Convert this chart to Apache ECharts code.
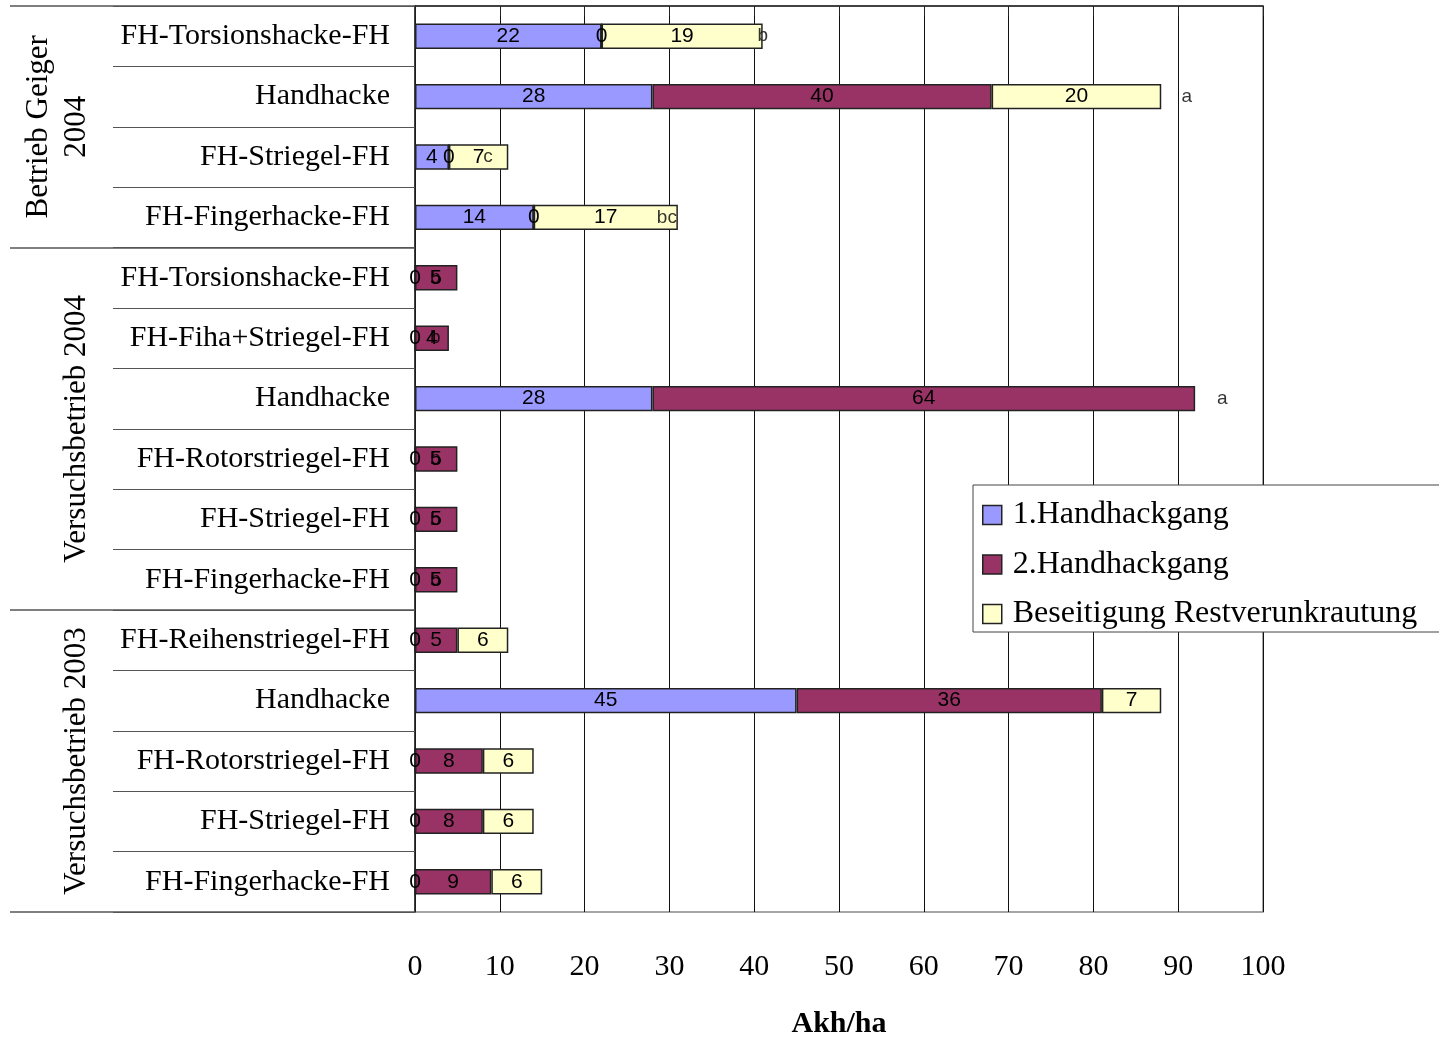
<!DOCTYPE html>
<html>
<head>
<meta charset="utf-8">
<title>Akh/ha je Verfahren</title>
<script src="https://cdn.jsdelivr.net/npm/echarts@6/dist/echarts.min.js"></script>
<style>
  html, body { margin: 0; padding: 0; background: #fff; }
  #chart { width: 1439px; height: 1037px; }
</style>
</head>
<body>
<div id="chart"></div>
<script>
// Verfahren (top to bottom)
const categories = [
  'FH-Torsionshacke-FH', 'Handhacke', 'FH-Striegel-FH', 'FH-Fingerhacke-FH',
  'FH-Torsionshacke-FH', 'FH-Fiha+Striegel-FH', 'Handhacke', 'FH-Rotorstriegel-FH',
  'FH-Striegel-FH', 'FH-Fingerhacke-FH',
  'FH-Reihenstriegel-FH', 'Handhacke', 'FH-Rotorstriegel-FH', 'FH-Striegel-FH', 'FH-Fingerhacke-FH'
];

// Arbeitszeit (Akh/ha) per Arbeitsgang
const handhackgang1 = [22, 28, 4, 14, 0, 0, 28, 0, 0, 0, 0, 45, 0, 0, 0];
const handhackgang2 = [0, 40, 0, 0, 5, 4, 64, 5, 5, 5, 5, 36, 8, 8, 9];
const restverunkrautung = [19, 20, 7, 17, null, null, null, null, null, null, 6, 7, 6, 6, 6];

// Signifikanzbuchstaben: [Position auf der Akh/ha-Achse, Zeile, Buchstabe]
const letters = [
  [41.0, 0, 'b'], [91.0, 1, 'a'], [8.6, 2, 'c'], [29.7, 3, 'bc'],
  [2.4, 4, 'b'], [2.4, 5, 'b'], [95.2, 6, 'a'], [2.4, 7, 'b'], [2.4, 8, 'b'], [2.4, 9, 'b']
];

// Betriebe / Jahre: Zeilengrenzen und Beschriftungen
const groupBounds = [0, 4, 10, 15];
const groupCenters = [2, 7, 12.5];
const groupNames = ['Betrieb Geiger\n2004', 'Versuchsbetrieb 2004', 'Versuchsbetrieb 2003'];

// Achse
const xTicks = [0, 10, 20, 30, 40, 50, 60, 70, 80, 90, 100];

const seriesNames = ['1.Handhackgang', '2.Handhackgang', 'Beseitigung Restverunkrautung'];
const colors = ['#9999FF', '#993366', '#FFFFCC'];

const serif = '"Liberation Serif", "Times New Roman", serif';
const sans = '"Liberation Sans", Arial, sans-serif';

function barSeries(name, data, color) {
  return {
    name: name,
    type: 'bar',
    stack: 'total',
    data: data,
    barCategoryGap: '58%',
    itemStyle: { color: color, borderColor: '#222', borderWidth: 1.5 },
    label: {
      show: true,
      position: 'inside',
      color: '#000',
      fontFamily: sans,
      fontSize: 21,
      formatter: p => (p.value === null || p.value === undefined) ? '' : String(p.value)
    },
    emphasis: { disabled: true },
    animation: false
  };
}

const chart = echarts.init(document.getElementById('chart'));
chart.setOption({
  backgroundColor: '#fff',
  animation: false,
  grid: {
    left: 415, right: 176, top: 6, bottom: 125,
    outerBoundsMode: 'none',
    containLabel: false,
    show: true, borderColor: '#888', borderWidth: 1.5, backgroundColor: 'transparent'
  },
  legend: {
    orient: 'vertical',
    left: 973, top: 485,
    padding: [14, 24, 2, 9],
    itemGap: 17.5,
    itemWidth: 19, itemHeight: 19,
    backgroundColor: '#fff',
    borderColor: '#444', borderWidth: 1,
    data: seriesNames.map(n => ({ name: n, icon: 'rect' })),
    itemStyle: { borderColor: '#222', borderWidth: 1.5 },
    textStyle: { fontFamily: serif, fontSize: 32, color: '#000', padding: [0, 0, 0, 6] }
  },
  xAxis: {
    type: 'value',
    min: 0, max: 100, interval: 10,
    axisLine: { show: true, lineStyle: { color: '#222', width: 1.5 } },
    axisTick: { show: true, length: 10, lineStyle: { color: '#222' } },
    splitLine: { show: true, lineStyle: { color: '#111', width: 1 } },
    axisLabel: {
      fontFamily: serif, fontSize: 30, color: '#000', margin: 40,
      customValues: xTicks
    },
    name: 'Akh/ha',
    nameLocation: 'middle',
    nameGap: 97,
    nameTextStyle: { fontFamily: serif, fontSize: 30, fontWeight: 'bold', color: '#000' }
  },
  yAxis: [
    {
      type: 'category',
      inverse: true,
      data: categories,
      axisLine: { show: true, lineStyle: { color: '#222', width: 1.5 } },
      axisTick: { show: true, length: 302, lineStyle: { color: '#555', width: 1.2 } },
      axisLabel: { fontFamily: serif, fontSize: 30, color: '#000', margin: 25, padding: [6, 0, 0, 0] }
    },
    {
      type: 'value',
      position: 'left',
      inverse: true,
      min: 0, max: 15,
      splitLine: { show: false },
      axisLine: { show: false },
      axisTick: { show: true, length: 405, customValues: groupBounds, lineStyle: { color: '#555', width: 1.5 } },
      axisLabel: {
        show: true,
        customValues: groupCenters,
        rotate: 90,
        margin: 319,
        align: 'center',
        verticalAlign: 'bottom',
        lineHeight: 38,
        fontFamily: serif, fontSize: 31, color: '#000',
        formatter: v => groupNames[groupCenters.indexOf(v)] || ''
      }
    }
  ],
  series: [
    barSeries(seriesNames[0], handhackgang1, colors[0]),
    barSeries(seriesNames[1], handhackgang2, colors[1]),
    barSeries(seriesNames[2], restverunkrautung, colors[2]),
    {
      name: 'Signifikanz',
      type: 'scatter',
      yAxisIndex: 0,
      symbolSize: 0,
      data: letters.map(l => ({ value: [l[0], l[1]], letter: l[2] })),
      label: {
        show: true,
        position: 'inside',
        color: '#000',
        fontFamily: sans,
        fontSize: 19,
        formatter: p => p.data.letter
      },
      emphasis: { disabled: true },
      silent: true,
      animation: false
    }
  ]
});
</script>
</body>
</html>
